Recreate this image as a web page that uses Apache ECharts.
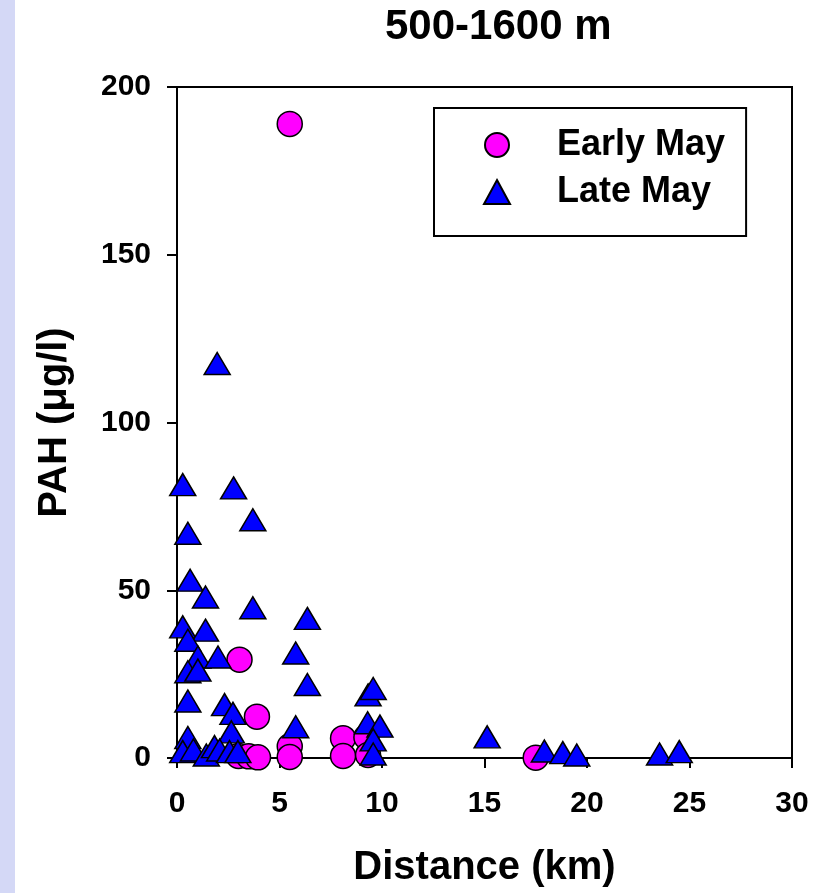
<!DOCTYPE html>
<html>
<head>
<meta charset="utf-8">
<script src="https://cdn.jsdelivr.net/npm/echarts@6/dist/echarts.min.js"></script>
<style>html,body{margin:0;padding:0;background:#fff}#c{width:827px;height:893px}</style>
</head>
<body>
<div id="c"></div>
<script>
const titleText = "500-1600 m";
const xName = "Distance (km)";
const yName = "PAH (\u03bcg/l)";
const seriesNames = ["Early May", "Late May"];
const xTicks = [0, 5, 10, 15, 20, 25, 30];
const yTicks = [0, 50, 100, 150, 200];

const earlyMayX = [5.5, 3.05, 3.9, 5.5, 5.5, 8.1, 8.1, 9.24, 9.32, 3.0, 3.5, 3.95, 17.5];
const earlyMayY = [189, 29.3, 12.3, 3.5, 0.3, 5.9, 0.6, 6.2, 0.9, 0.6, 0.5, 0.2, 0.1];

const lateMayX = [0.28, 2.76, 1.96, 0.53, 3.7, 0.64, 1.39, 3.7, 6.36, 0.28, 1.39, 0.53, 1.02, 2.0, 5.79,
  0.53, 1.02, 6.36, 9.32, 9.57, 0.53, 2.32, 2.73, 2.65, 5.79, 9.3, 9.9, 9.57, 0.53, 9.57,
  0.28, 0.8, 1.43, 1.83, 2.08, 2.56, 2.97,
  15.13, 17.92, 18.82, 19.5, 23.54, 24.5];
const lateMayY = [81.5, 80.5, 117.6, 67, 71, 53, 48, 44.8, 41.6, 39.1, 38.1, 35.1, 30.1, 30.1, 31.3,
  25.7, 26.2, 21.9, 18.8, 20.7, 17.0, 15.9, 13.3, 7.8, 9.3, 10.5, 9.5, 5.4, 6.1, 1.2,
  1.9, 2.4, 0.9, 3.4, 2.4, 1.9, 1.9,
  6.3, 2.1, 1.6, 0.9, 1.2, 1.9];

const earlyData = earlyMayX.map((x, i) => [x, earlyMayY[i]]);
const lateData = lateMayX.map((x, i) => [x, lateMayY[i]]);

const FONT = "'Liberation Sans', Arial, sans-serif";
const chart = echarts.init(document.getElementById('c'), null, {renderer: 'canvas'});
chart.setOption({
  backgroundColor: '#ffffff',
  animation: false,
  graphic: [{
    type: 'rect', left: 0, top: 0, z: -10,
    shape: {x: 0, y: 0, width: 15, height: 893},
    style: {fill: '#d4d8f6'}
  }],
  title: {
    text: titleText,
    left: 380, top: 1,
    textStyle: {fontFamily: FONT, fontWeight: 'bold', fontSize: 42, color: '#000'}
  },
  grid: {
    left: 177, right: 35, top: 87, bottom: 135,
    show: true, borderColor: '#000', borderWidth: 2, backgroundColor: 'transparent'
  },
  legend: {
    orient: 'vertical',
    left: 434, top: 108,
    data: seriesNames,
    backgroundColor: '#fff',
    borderColor: '#000', borderWidth: 2, borderRadius: 0,
    padding: [17, 21, 24, 49],
    itemWidth: 26, itemHeight: 24, itemGap: 7,
    textStyle: {fontFamily: FONT, fontWeight: 'bold', fontSize: 36, color: '#000', lineHeight: 40, padding: [0, 0, 0, 42]}
  },
  xAxis: {
    type: 'value', min: 0, max: 30, interval: 5,
    name: xName, nameLocation: 'middle', nameGap: 90,
    nameTextStyle: {fontFamily: FONT, fontWeight: 'bold', fontSize: 40, color: '#000'},
    axisLine: {onZero: false, lineStyle: {color: '#000', width: 2}},
    axisTick: {inside: false, length: 10, lineStyle: {color: '#000', width: 2}},
    axisLabel: {margin: 31, fontFamily: FONT, fontWeight: 'bold', fontSize: 30, color: '#000',
      formatter: v => xTicks.includes(v) ? String(v) : ''},
    splitLine: {show: false}
  },
  yAxis: {
    type: 'value', min: 0, max: 200, interval: 50,
    name: yName, nameLocation: 'middle', nameGap: 102,
    nameTextStyle: {fontFamily: FONT, fontWeight: 'bold', fontSize: 40, color: '#000'},
    axisLine: {onZero: false, lineStyle: {color: '#000', width: 2}},
    axisTick: {inside: false, length: 10, lineStyle: {color: '#000', width: 2}},
    axisLabel: {margin: 26, fontFamily: FONT, fontWeight: 'bold', fontSize: 30, color: '#000',
      formatter: v => yTicks.includes(v) ? String(v) : ''},
    splitLine: {show: false}
  },
  series: [{
    name: seriesNames[0], type: 'scatter', data: earlyData,
    symbol: 'circle', symbolSize: 25,
    itemStyle: {color: '#ff00ff', borderColor: '#000', borderWidth: 1.5, opacity: 1},
    z: 2
  }, {
    name: seriesNames[1], type: 'scatter', data: lateData,
    symbol: 'triangle', symbolSize: [26, 22],
    itemStyle: {color: '#0000ff', borderColor: '#000', borderWidth: 1.5, opacity: 1},
    z: 3
  }]
});
</script>
</body>
</html>
